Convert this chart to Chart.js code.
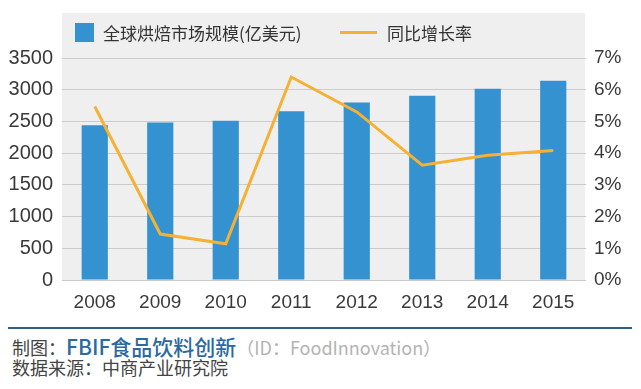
<!DOCTYPE html>
<html>
<head>
<meta charset="utf-8">
<script src="https://cdn.jsdelivr.net/npm/chart.js@4"></script>
<style>
  html, body { margin: 0; padding: 0; background: #fff; }
  body { width: 641px; height: 389px; position: relative; overflow: hidden;
         font-family: "Noto Sans CJK SC", "Noto Sans", sans-serif; }
  #chartBox { position: absolute; left: 0; top: 0; width: 641px; height: 320px; }
  .legend { position: absolute; top: 21px; height: 22px; display: flex; align-items: center;
            font-size: 17px; color: #333; white-space: nowrap; }
  .swatch-bar { width: 19px; height: 19px; background: #3592d0; margin-right: 9px; }
  .swatch-line { width: 37px; height: 3px; background: #f5b134; margin-right: 10px; }
  .rule { position: absolute; left: 8px; top: 327px; width: 624px; height: 2px; background: #2e5f86; }
  .foot { position: absolute; left: 12px; white-space: nowrap; font-size: 18px; color: #444; }
  .brand { color: #2b6aa1; font-size: 21px; font-weight: 500; }
  .grey { color: #b3b3b3; }
</style>
</head>
<body>
<div id="chartBox"><canvas id="bakeChart" width="641" height="320"></canvas></div>

<div class="legend" style="left:75px"><span class="swatch-bar"></span>全球烘焙市场规模(亿美元)</div>
<div class="legend" style="left:340px"><span class="swatch-line"></span>同比增长率</div>

<div class="rule"></div>
<div class="foot" style="top:331px">制图：<span class="brand">FBIF食品饮料创新</span><span class="grey">（ID：FoodInnovation）</span></div>
<div class="foot" style="top:354px">数据来源：中商产业研究院</div>

<script>
// 数据
const years = ['2008', '2009', '2010', '2011', '2012', '2013', '2014', '2015'];
const marketSize = [2440, 2485, 2510, 2660, 2800, 2905, 3015, 3140]; // 亿美元
const growthRate = [5.47, 1.45, 1.14, 6.40, 5.30, 3.62, 3.93, 4.08];  // %
const leftTicks = [0, 500, 1000, 1500, 2000, 2500, 3000, 3500];
const rightTicks = [0, 1, 2, 3, 4, 5, 6, 7];

// 灰色背景（图例 + 绘图区）
const greyPanel = {
  id: 'greyPanel',
  beforeDraw(chart) {
    const ctx = chart.ctx;
    const area = chart.chartArea;
    ctx.save();
    ctx.fillStyle = '#efefef';
    ctx.fillRect(area.left, 13, area.right - area.left - 1, area.bottom - 13);
    ctx.restore();
  }
};

const tickFont = { family: '"Liberation Sans", Arial, sans-serif', size: 19 };

const ctx = document.getElementById('bakeChart').getContext('2d');
const bakeChart = new Chart(ctx, {
  data: {
    labels: years,
    datasets: [
      {
        type: 'line',
        label: '同比增长率',
        data: growthRate,
        yAxisID: 'y1',
        borderColor: '#f5b134',
        borderWidth: 3,
        pointRadius: 0,
        tension: 0,
        order: 0,
      },
      {
        type: 'bar',
        label: '全球烘焙市场规模(亿美元)',
        data: marketSize,
        yAxisID: 'y',
        backgroundColor: '#3592d0',
        categoryPercentage: 1,
        barPercentage: 0.4,
        order: 1,
      },
    ],
  },
  options: {
    responsive: false,
    animation: false,
    layout: { padding: { top: 58, bottom: 0, left: 0, right: 0 } },
    plugins: { legend: { display: false }, tooltip: { enabled: false } },
    scales: {
      x: {
        grid: { display: false, drawTicks: false },
        border: { display: false },
        ticks: { font: tickFont, color: '#3a3a3a', padding: 11 },
        afterFit(scale) { scale.height = 40; },
      },
      y: {
        position: 'left',
        min: 0,
        max: 3500,
        afterBuildTicks(scale) { scale.ticks = leftTicks.map(v => ({ value: v })); },
        grid: { color: '#cbcbcb', drawTicks: false, lineWidth: 1 },
        border: { display: false },
        ticks: { font: { ...tickFont, size: 20 }, color: '#3a3a3a', padding: 9, callback: v => String(v) },
        afterFit(scale) { scale.width = 62; },
      },
      y1: {
        position: 'right',
        min: 0,
        max: 7,
        afterBuildTicks(scale) { scale.ticks = rightTicks.map(v => ({ value: v })); },
        grid: { display: false, drawTicks: false },
        border: { display: false },
        ticks: { font: tickFont, color: '#3a3a3a', padding: 8, callback: v => v + '%' },
        afterFit(scale) { scale.width = 55; },
      },
    },
  },
  plugins: [greyPanel],
});
</script>
</body>
</html>
